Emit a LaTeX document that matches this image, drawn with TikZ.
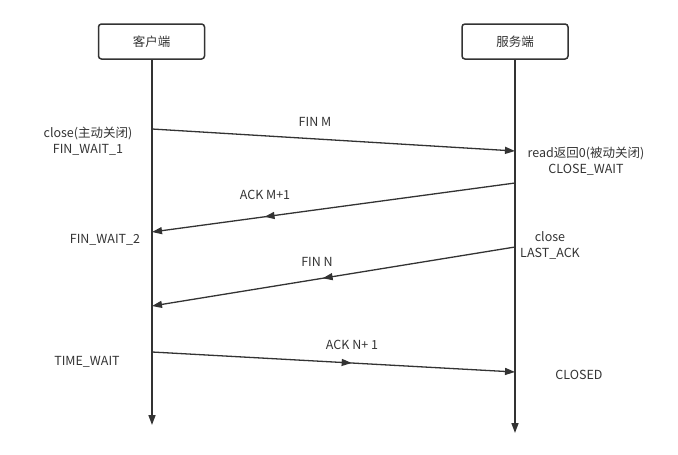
\documentclass[tikz,border=0pt]{standalone}
\usepackage{fontspec}
\setmainfont{Noto Sans CJK SC}
\usetikzlibrary{arrows.meta,decorations.markings}
\definecolor{ink}{HTML}{333333}
\begin{document}
\begin{tikzpicture}[x=1pt,y=-1pt,
  actor/.style={draw=ink,line width=1.5pt,rounded corners=3pt,minimum width=106pt,minimum height=35pt,font=\fontsize{12.5}{15}\selectfont,text=ink},
  life/.style={draw=ink,line width=1.6pt,-{Triangle[length=10pt,width=7pt]}},
  msg/.style={draw=ink,line width=1.3pt,-{Triangle[length=10pt,width=7pt]}},
  midarrow/.style={postaction={decorate},decoration={markings,mark=at position #1 with {\arrow{Triangle[length=10pt,width=7pt]}}}},
  lbl/.style={font=\fontsize{12.5}{16}\selectfont,text=ink,align=center,inner sep=0pt}]
\useasboundingbox (0,0) rectangle (678,455);
\node[actor] (client) at (151.5,41.5) {客户端};
\node[actor] (server) at (515,41.5) {服务端};
\coordinate (cend) at (152,425);
\coordinate (send) at (515,433);
\draw[life] (client.south -| cend) -- (cend);
\draw[life] (server.south -| send) -- (send);
% anchor points on lifelines
\coordinate (c1) at (152,129);
\coordinate (s1) at (515,151);
\coordinate (s2) at (515,183);
\coordinate (c2) at (152,232);
\coordinate (s3) at (515,247);
\coordinate (c3) at (152,306);
\coordinate (c4) at (152,352);
\coordinate (s4) at (515,372);
\draw[msg] (c1) -- (s1);
\draw[msg,midarrow=0.69] (s2) -- (c2);
\draw[msg,midarrow=0.53] (s3) -- (c3);
\draw[msg,midarrow=0.55] (c4) -- (s4);
% labels
\node[lbl] (l1) at (315,122) {FIN M};
\node[lbl] (l2) at (265,195) {ACK M+1};
\node[lbl] (l3) at (317,262) {FIN N};
\node[lbl] (l4) at (352,345) {ACK N+ 1};
\node[lbl] (t1) at (88,141) {close(主动关闭)\\FIN\_WAIT\_1};
\node[lbl] (t2) at (586,161) {read返回0(被动关闭)\\CLOSE\_WAIT};
\node[lbl] (t3) at (105,240) {FIN\_WAIT\_2};
\node[lbl] (t4) at (550,245) {close\\LAST\_ACK};
\node[lbl] (t5) at (87,362) {TIME\_WAIT};
\node[lbl] (t6) at (579,375) {CLOSED};
\end{tikzpicture}
\end{document}
